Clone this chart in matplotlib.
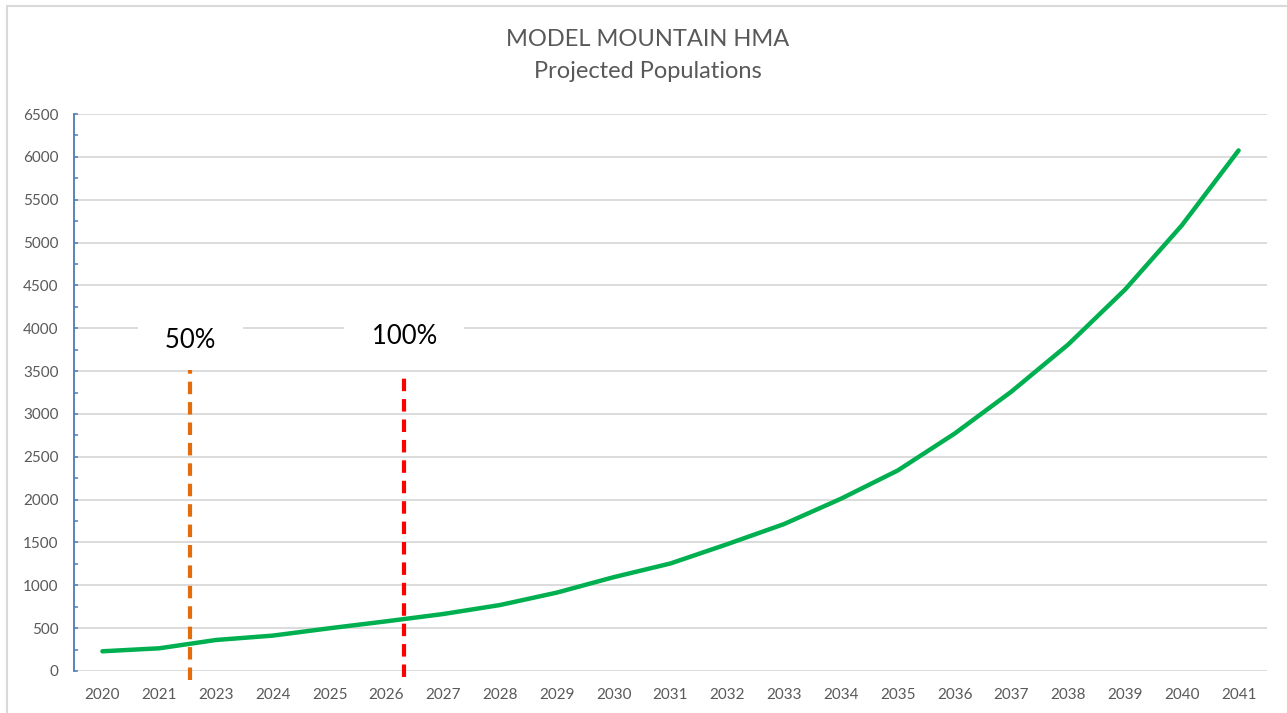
import matplotlib
matplotlib.use("Agg")
import matplotlib.pyplot as plt
from matplotlib.patches import Rectangle

plt.rcParams['font.family'] = ['Lato', 'DejaVu Sans']

# ---- data ----
years = ['2020', '2021', '2023', '2024', '2025', '2026', '2027', '2028', '2029', '2030',
         '2031', '2032', '2033', '2034', '2035', '2036', '2037', '2038', '2039', '2040', '2041']
population = [230, 265, 362, 413, 499, 580, 665, 770, 915, 1095,
              1255, 1480, 1715, 2010, 2340, 2770, 3260, 3810, 4450, 5200, 6075]
y_ticks = list(range(0, 6501, 500))
title_lines = ['MODEL MOUNTAIN HMA', 'Projected Populations']
markers = ['50%', '100%']
marker_pos = [1.55, 5.31]          # position along category axis
marker_top = [3510, 3465]
marker_bottom = [-105, -70]
marker_colors = ['#E46C0A', '#FF0000']
marker_label_y = [3860, 3905]

W, H = 1287, 713
fig = plt.figure(figsize=(W / 100, H / 100), dpi=100)
ax = fig.add_axes([74 / W, (H - 671) / H, (1267 - 74) / W, (671 - 114) / H])

x = list(range(len(years)))
ax.set_xlim(-0.5, len(years) - 0.5)
ax.set_ylim(0, 6500)

# gridlines
ax.set_yticks(y_ticks)
ax.set_yticks(list(range(250, 6500, 500)), minor=True)
ax.grid(axis='y', which='major', color='#D9D9D9', lw=1.3, zorder=0)
ax.set_axisbelow(True)

for s in ['top', 'right', 'bottom']:
    ax.spines[s].set_visible(False)
ax.spines['left'].set_color('#4F7BB5')
ax.spines['left'].set_linewidth(1.3)

ax.tick_params(axis='y', which='both', direction='in', colors='#4F7BB5', length=3, width=1.1,
               labelcolor='#595959', labelsize=11, pad=11)
ax.set_xticks(x)
ax.set_xticklabels(years)
ax.tick_params(axis='x', length=0, labelcolor='#595959', labelsize=11, pad=12)

# main line
ax.plot(x, population, color='#00B050', lw=3.2, solid_capstyle='round', zorder=3)

# dashed threshold markers
for pos, top, bot, col, lab, ly in zip(marker_pos, marker_top, marker_bottom, marker_colors,
                                       markers, marker_label_y):
    ax.plot([pos, pos], [bot, top], color=col, lw=3, dashes=(3, 1.9), clip_on=False, zorder=4)
    ax.text(pos, ly, '   ' + lab + '   ', ha='center', va='center', fontsize=18.5, color='black',
            bbox=dict(boxstyle='square,pad=0.3', fc='white', ec='none'), zorder=5)

# title
fig.text(648 / W, 1 - 40 / H, title_lines[0], ha='center', va='center', fontsize=17, color='#595959')
fig.text(648 / W, 1 - 72 / H, title_lines[1], ha='center', va='center', fontsize=17, color='#595959')

# chart border
fig.patches.append(Rectangle((7 / W, -0.05), 1.2, 1 - 6 / H + 0.05, transform=fig.transFigure,
                             fill=False, ec='#D9D9D9', lw=1.5))

fig.savefig('out.png', dpi=100)
